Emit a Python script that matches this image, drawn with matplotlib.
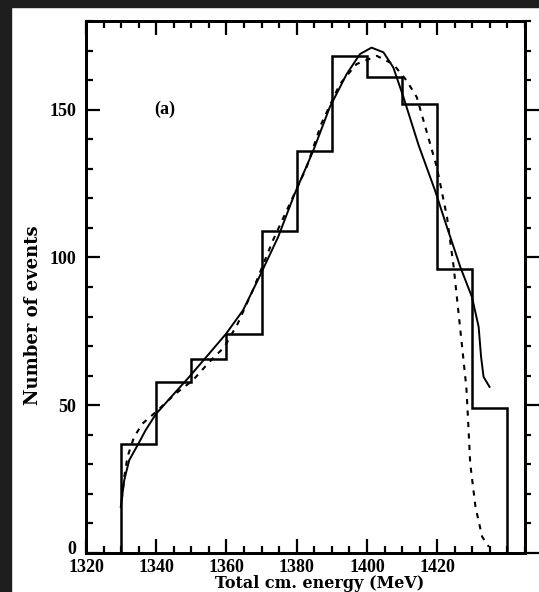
import numpy as np
import matplotlib
matplotlib.use("Agg")
import matplotlib.pyplot as plt
import matplotlib.transforms as mtransforms
from matplotlib.patches import Rectangle
from matplotlib.ticker import MultipleLocator

# histogram: 10 MeV bins from 1330 to 1440
bin_edges = [1330, 1340, 1350, 1360, 1370, 1380, 1390, 1400, 1410, 1420, 1430, 1440]
counts = [37, 58, 65.5, 74, 109, 136, 168, 161, 152, 96, 49]

# solid fit curve
solid_x = [1329.9, 1330.9, 1332.3, 1334.7, 1337.0, 1339.9, 1344.7, 1349.4, 1355.1,
           1359.9, 1364.7, 1369.2, 1374.7, 1379.4, 1384.7, 1389.4, 1394.2, 1398.0,
           1401.3, 1404.7, 1407.5, 1410.4, 1414.7, 1419.4, 1422.8, 1426.6, 1429.9,
           1431.8, 1432.5, 1433.2, 1434.9]
solid_y = [15.6, 24.7, 31.4, 36.5, 41.6, 47.0, 53.4, 59.6, 67.5,
           74.2, 82.1, 93.0, 106.9, 121.5, 136.1, 150.8, 162.0, 168.8,
           171.0, 169.4, 164.3, 154.2, 138.0, 122.6, 110.2, 96.7, 86.6,
           76.5, 66.3, 59.6, 56.2]

# dashed fit curve
dash_x = [1330.2, 1330.8, 1331.8, 1333.7, 1336.1, 1339.4, 1345.6, 1350.4, 1355.1,
          1359.4, 1363.2, 1367.5, 1373.2, 1378.9, 1382.8, 1387.0, 1392.3, 1397.0,
          1402.8, 1407.5, 1411.3, 1414.2, 1419.9, 1422.8, 1424.7, 1426.2, 1427.2,
          1428.3, 1428.7, 1429.4, 1430.9, 1432.8, 1434.7]
dash_y = [18.0, 25.0, 32.5, 39.3, 43.8, 47.2, 54.0, 58.4, 64.6,
          69.7, 77.6, 88.9, 105.7, 120.4, 130.5, 145.2, 158.7, 165.4,
          168.2, 165.4, 159.8, 154.2, 130.5, 113.6, 96.7, 79.8, 68.6,
          56.0, 47.2, 30.3, 15.6, 5.5, 2.1]

W, H = 539, 592
fig = plt.figure(figsize=(W / 100, H / 100), dpi=100, facecolor="white")
ax = fig.add_axes([86 / W, 1 - 553 / H, (525 - 86) / W, (553 - 21) / H])

tick_font = "Liberation Serif"
label_font = "DejaVu Serif"

ax.stairs(counts, bin_edges, baseline=0, fill=False, color="black", lw=1.8)
ax.plot(solid_x, solid_y, color="black", lw=1.4)
ax.plot(dash_x, dash_y, color="black", lw=1.5, ls=(0, (2.5, 3)))

ax.set_xlim(1320, 1445)
ax.set_ylim(0, 180)
ax.xaxis.set_major_locator(MultipleLocator(20))
ax.xaxis.set_minor_locator(MultipleLocator(5))
ax.yaxis.set_major_locator(MultipleLocator(50))
ax.yaxis.set_minor_locator(MultipleLocator(10))
ax.tick_params(which="both", direction="in", top=True, bottom=True, left=True,
               right=False, width=1.6, color="black")
ax.tick_params(which="major", length=10)
ax.tick_params(which="minor", length=5)
ax.tick_params(axis="x", pad=4)
ax.tick_params(axis="y", pad=7)
ax.set_xticks([1320, 1340, 1360, 1380, 1400, 1420])
ax.set_yticks([0, 50, 100, 150])
for lab in ax.get_xticklabels() + ax.get_yticklabels():
    lab.set_fontfamily(tick_font)
    lab.set_fontweight("bold")
    lab.set_fontsize(13)

# lift the "0" a little so it clears "1320"
zero_lab = ax.get_yticklabels()[0]
zero_lab.set_transform(zero_lab.get_transform() +
                       mtransforms.ScaledTranslation(0, 5 / 100, fig.dpi_scale_trans))

# right edge ticks point into the neighbouring panel
ax2 = ax.twinx()
ax2.set_ylim(0, 180)
ax2.yaxis.set_major_locator(MultipleLocator(50))
ax2.yaxis.set_minor_locator(MultipleLocator(10))
ax2.tick_params(which="both", direction="out", width=1.6, labelright=False)
ax2.tick_params(which="major", length=10)
ax2.tick_params(which="minor", length=4)

for a in (ax, ax2):
    for sp in a.spines.values():
        sp.set_linewidth(2.0)

fig.text(320 / W, 1 - 584 / H, "Total cm. energy (MeV)", fontsize=11.5,
         family=label_font, weight="bold", ha="center", va="center")
fig.text(33 / W, 1 - 315 / H, "Number of events", fontsize=13, rotation=90,
         family=label_font, weight="bold", ha="center", va="center")
ax.text(1342.3, 150, "(a)", fontsize=13, ha="center", va="center",
        family=tick_font, weight="bold")

# dark scan border on the top and left
fig.add_artist(Rectangle((0, 1 - 7 / H), 1, 7 / H, transform=fig.transFigure,
                         color="#1e1e1e", zorder=10))
fig.add_artist(Rectangle((0, 0), 11 / W, 1, transform=fig.transFigure,
                         color="#1e1e1e", zorder=10))

fig.savefig("out.png", dpi=100)
